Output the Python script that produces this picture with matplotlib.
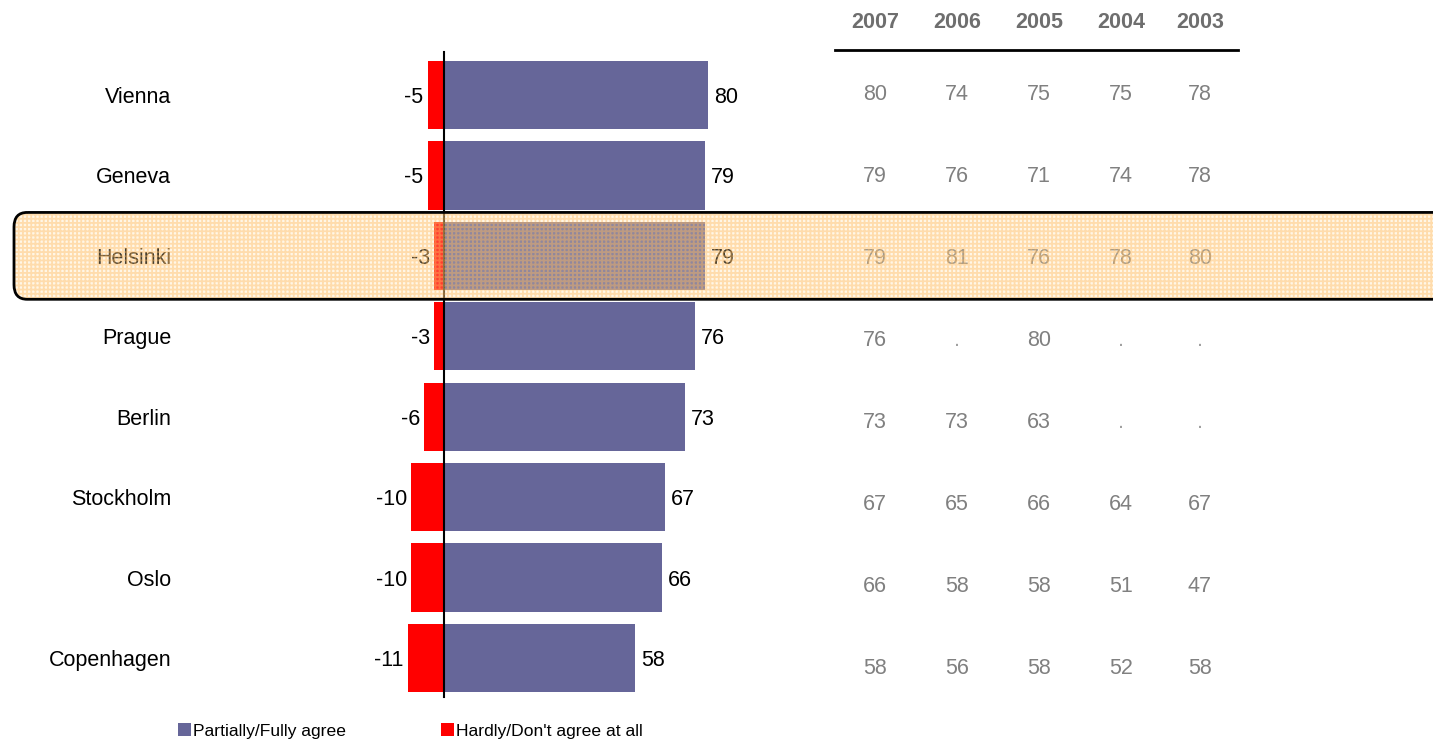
import numpy as np
import matplotlib.pyplot as plt
from matplotlib.patches import FancyBboxPatch, Patch

plt.rcParams['font.family'] = ['Liberation Sans', 'DejaVu Sans']
plt.rcParams['hatch.linewidth'] = 1.3

cities = ["Vienna", "Geneva", "Helsinki", "Prague", "Berlin", "Stockholm", "Oslo", "Copenhagen"]
agree = [80, 79, 79, 76, 73, 67, 66, 58]
disagree = [-5, -5, -3, -3, -6, -10, -10, -11]
years = ["2007", "2006", "2005", "2004", "2003"]
history = [
    ["80", "74", "75", "75", "78"],
    ["79", "76", "71", "74", "78"],
    ["79", "81", "76", "78", "80"],
    ["76", ".", "80", ".", "."],
    ["73", "73", "63", ".", "."],
    ["67", "65", "66", "64", "67"],
    ["66", "58", "58", "51", "47"],
    ["58", "56", "58", "52", "58"],
]
highlight = "Helsinki"

W, H = 1433, 741
x0_px, px_per_unit = 444, 3.3      # zero line position and scale
row0_px, row_px = 95, 80.43        # first row centre and row pitch

def px_x(p):
    return (p - x0_px) / px_per_unit

def px_y(p):
    return (p - row0_px) / row_px

fig = plt.figure(figsize=(W / 100, H / 100), dpi=100)
ax = fig.add_axes([0, 0, 1, 1])
ax.set_xlim(px_x(0), px_x(W))
ax.set_ylim(px_y(H), px_y(0))
ax.axis('off')

purple, red = '#666699', '#ff0000'
y = np.arange(len(cities))
ax.barh(y, agree, height=0.85, color=purple, zorder=2)
ax.barh(y, disagree, height=0.85, color=red, zorder=2)
ax.plot([0, 0], [px_y(52), px_y(697)], color='black', lw=1.5, zorder=3)

fs = 15.5
dy = 2.5 / row_px   # small nudge so text sits like the original
for i, city in enumerate(cities):
    ax.text(px_x(171), i + dy, city, ha='right', va='center', fontsize=fs, color='black')
    ax.text(agree[i] + 6 / px_per_unit, i + dy, str(agree[i]), ha='left', va='center',
            fontsize=fs, color='black')
    ax.text(disagree[i] - 4 / px_per_unit, i + dy, str(disagree[i]), ha='right', va='center',
            fontsize=fs, color='black')

# table of earlier years
col_px = [875, 957, 1039, 1121, 1200]
for j, yr in enumerate(years):
    ax.text(px_x(col_px[j]), px_y(23), yr, ha='center', va='center', fontsize=fs,
            fontweight='bold', color='#6e6e6e')
    for i in range(len(cities)):
        val = history[i][j]
        ax.text(px_x(col_px[j]), px_y(95 + 82 * i), val, ha='center', va='center',
                fontsize=fs, color='#a0a0a0' if val == '.' else '#808080')
ax.plot([px_x(835), px_x(1238)], [px_y(50), px_y(50)], color='black', lw=2)

# highlight band: hatched tint on top, then the black outline
hi = cities.index(highlight)
bx, bw = px_x(14), px_x(1460) - px_x(14)
style = dict(boxstyle="round,pad=0,rounding_size=4", mutation_aspect=0.045)
tint = FancyBboxPatch((bx, hi - 0.54), bw, 1.08, **style,
                      facecolor=(1.0, 0.88, 0.66, 0.28),
                      edgecolor=(1.0, 0.72, 0.36, 0.42), lw=0,
                      hatch='++++', zorder=5)
outline = FancyBboxPatch((bx, hi - 0.54), bw, 1.08, **style,
                         fill=False, edgecolor='black', lw=2, zorder=6)
ax.add_patch(tint)
ax.add_patch(outline)

handles = [Patch(facecolor=purple, label='Partially/Fully agree'),
           Patch(facecolor=red, label="Hardly/Don't agree at all")]
ax.legend(handles=handles, ncol=2, loc='center left', frameon=False,
          bbox_to_anchor=(171 / W, 1 - 731 / H), fontsize=12.6,
          handlelength=0.75, handleheight=0.75, handletextpad=0.1,
          columnspacing=5.45, borderaxespad=0)

fig.savefig('out.png', dpi=100)
